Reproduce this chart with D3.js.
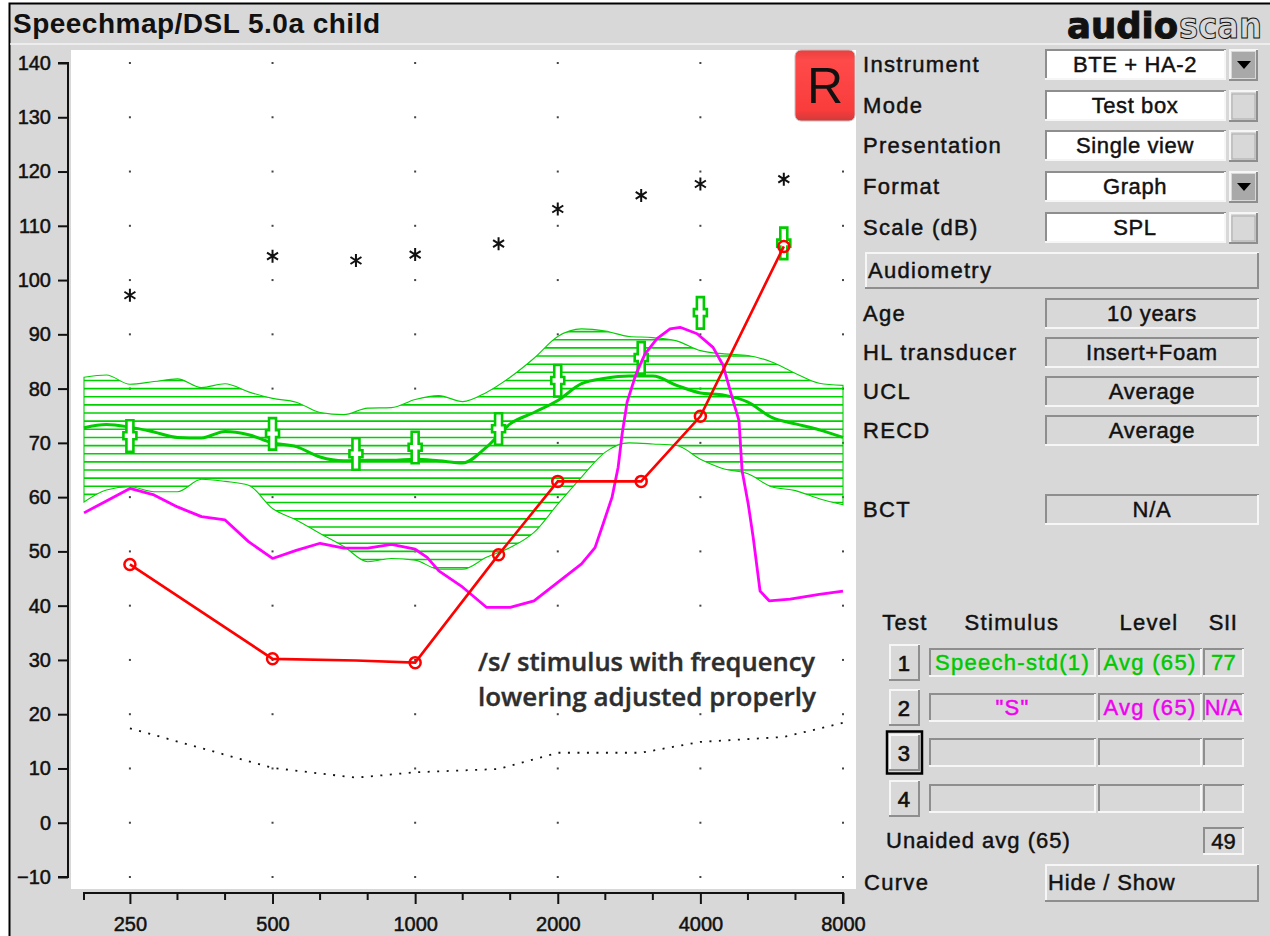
<!DOCTYPE html>
<html>
<head>
<meta charset="utf-8">
<script src="https://cdn.jsdelivr.net/npm/d3@7"></script>
<style>
    html, body { margin: 0; padding: 0; background: #fff; }
    svg { display: block; }
    text { font-family: "Liberation Sans", sans-serif; fill: #111; }
</style>
</head>
<body>
<svg id="viz" width="1270" height="936"></svg>
<script>
// Frequencies the speech curves were read at (Hz)
const speechFreqs = [200, 223, 250, 281, 315, 354, 397, 445, 500, 561, 630, 707, 794, 891, 1000, 1122, 1260, 1414, 1587, 1782, 2000, 2245, 2520, 2828, 3175, 3564, 4000, 4490, 5040, 5657, 6350, 7127, 8000];
const bandUpper = [82.1, 82.5, 80.8, 81.3, 81.8, 80.2, 80.9, 79.4, 78.2, 77.5, 75.6, 75.2, 76.4, 76.5, 78, 78.7, 77.6, 79.3, 82.1, 85.6, 89.6, 91, 90.6, 89.6, 89.4, 88.8, 87, 86.4, 86.1, 84.9, 82.8, 81, 80.6];
const bandLower = [59.1, 61.3, 61.9, 61, 61, 63.3, 62.9, 62.2, 57.9, 55.8, 53.3, 50.9, 48.1, 48.7, 48.4, 46.7, 46.7, 48.9, 50.7, 53.5, 58.7, 63.7, 68.3, 70, 69.8, 69.5, 67, 65.2, 64.3, 61.9, 61.2, 59.7, 58.6];
const speechAvg = [72.8, 73.4, 72.9, 72, 71, 70.9, 72.1, 71.5, 70, 69.3, 67.4, 66.7, 66.8, 66.8, 67, 66.7, 66.3, 69.2, 73.5, 75.6, 77.8, 80.9, 81.9, 82.3, 82.3, 80.6, 79.2, 78.8, 77.5, 74.7, 73.5, 72.4, 71];

// "S" stimulus curve
const sFreqs = [200, 223, 250, 281, 315, 354, 397, 445, 500, 561, 630, 707, 794, 891, 1000, 1060, 1122, 1260, 1414, 1587, 1782, 2000, 2245, 2397, 2492, 2604, 2682, 2734, 2801, 2926, 3057, 3240, 3452, 3625, 3937, 4254, 4466, 4688, 4826, 4898, 5048, 5170, 5346, 5587, 6187, 7127, 8000];
const sLevels = [57.1, 59.3, 61.6, 60.4, 58.2, 56.4, 55.8, 51.8, 48.7, 50.2, 51.5, 50.6, 50.6, 51.3, 50.4, 48.9, 46.4, 43.4, 39.7, 39.7, 40.9, 44.3, 47.7, 50.7, 55, 60, 65.5, 71.6, 77.5, 82.7, 86.4, 89.2, 91, 91.3, 90.1, 87.6, 84.3, 77.8, 74.1, 64.9, 58.7, 52.6, 42.7, 40.9, 41.2, 42.1, 42.7];

// Audiometric frequencies
const auditFreqs = [250, 500, 750, 1000, 1500, 2000, 3000, 4000, 6000];
const targets = [47.6, 30.2, 29.9, 29.5, 49.4, 62.9, 62.9, 74.9, 106.2];
const ucl = [97.2, 104.4, 103.6, 104.7, 106.7, 113.1, 115.6, 117.7, 118.6];
const markerLevels = [71.3, 71.7, 68, 69.2, 72.6, 81.5, 85.7, 94, 106.8];
const redCircleFreqs = [250, 500, 1000, 1500, 2000, 3000, 4000, 6000];

const threshFreqs = [250, 500, 750, 1000, 1500, 2000, 3000, 4000, 6000, 8000];
const thresholds = [17.4, 10.1, 8.3, 9.3, 9.9, 12.9, 12.9, 14.9, 15.8, 18.4];

const yTicks = [140, 130, 120, 110, 100, 90, 80, 70, 60, 50, 40, 30, 20, 10, 0, -10];
const xLabels = [250, 500, 1000, 2000, 4000, 8000];
const xMinor = [200, 315, 397, 630, 794, 1260, 1587, 2520, 3175, 5040, 6350];

const dropdownRows = [
    { label: "Instrument", value: "BTE + HA-2", arrow: true, top: 50 },
    { label: "Mode", value: "Test box", arrow: false, top: 91 },
    { label: "Presentation", value: "Single view", arrow: false, top: 131 },
    { label: "Format", value: "Graph", arrow: true, top: 172 },
    { label: "Scale (dB)", value: "SPL", arrow: false, top: 213 }
];
const infoRows = [
    { label: "Age", value: "10 years", top: 298 },
    { label: "HL transducer", value: "Insert+Foam", top: 337 },
    { label: "UCL", value: "Average", top: 376 },
    { label: "RECD", value: "Average", top: 415 },
    { label: "BCT", value: "N/A", top: 494 }
];
const testRows = [
    { n: "1", stim: "Speech-std(1)", level: "Avg (65)", sii: "77", color: "#00c800", top: 648 },
    { n: "2", stim: "\"S\"", level: "Avg (65)", sii: "N/A", color: "#f000f0", top: 693 },
    { n: "3", stim: "", level: "", sii: "", color: "#111", top: 738 },
    { n: "4", stim: "", level: "", sii: "", color: "#111", top: 784 }
];

const svg = d3.select("#viz");
const green = "#00cc00";
const panel = "#d8d8d8";

const x = d3.scaleLog().base(2).domain([200, 8000]).range([84, 843]);
const y = d3.scaleLinear().domain([-10, 140]).range([877, 63]);

// Background and frame
svg.append("rect").attr("x", 9).attr("y", 3).attr("width", 1261).attr("height", 933).attr("fill", panel);
svg.append("path").attr("d", "M9.5,936V3.5H1270").attr("fill", "none").attr("stroke", "#000").attr("stroke-width", 2);
svg.append("line").attr("x1", 10).attr("x2", 1270).attr("y1", 44).attr("y2", 44).attr("stroke", "#f4f4f4").attr("stroke-width", 1.5);
svg.append("rect").attr("x", 71).attr("y", 50).attr("width", 785).attr("height", 839).attr("fill", "#fff");

function label(text, px, py, opts = {}) {
    return svg.append("text")
        .attr("x", px).attr("y", py)
        .attr("text-anchor", opts.anchor || "start")
        .attr("font-size", opts.size || 22)
        .attr("letter-spacing", opts.spacing === undefined ? 1.3 : opts.spacing)
        .style("fill", opts.color || "#111")
        .attr("stroke", opts.color || "#111")
        .attr("stroke-width", opts.weight === undefined ? 0.45 : opts.weight)
        .text(text);
}

// Title and logo
svg.append("text").attr("x", 13).attr("y", 33).attr("font-size", 28).attr("font-weight", "bold")
    .attr("textLength", 367).attr("lengthAdjust", "spacing").style("fill", "#111").text("Speechmap/DSL 5.0a child");
svg.append("text").attr("x", 1067).attr("y", 38).attr("font-size", 35).attr("font-weight", "bold")
    .attr("textLength", 111).attr("lengthAdjust", "spacingAndGlyphs")
    .style("font-family", "DejaVu Sans").style("fill", "#111").attr("stroke", "#111").attr("stroke-width", 1).text("audio");
svg.append("text").attr("x", 1179).attr("y", 38).attr("font-size", 35).attr("font-weight", "bold")
    .attr("textLength", 83).attr("lengthAdjust", "spacingAndGlyphs")
    .style("font-family", "DejaVu Sans").style("fill", panel).attr("stroke", "#111").attr("stroke-width", 1).text("scan");

// Axes
const yAxis = d3.axisLeft(y).tickValues(yTicks).tickSize(10).tickPadding(7).tickFormat(d => d < 0 ? "\u2212" + (-d) : d);
const yG = svg.append("g").attr("transform", "translate(68,0)").call(yAxis);
const xAxis = d3.axisBottom(x).tickValues(xLabels).tickSize(11).tickPadding(13).tickFormat(d => d);
const xG = svg.append("g").attr("transform", "translate(0,893)").call(xAxis);
[yG, xG].forEach(g => {
    g.selectAll("path, line").attr("stroke", "#111").attr("stroke-width", 2);
    g.selectAll("text").attr("font-size", 20).style("font-family", "Liberation Sans").style("fill", "#111")
        .attr("stroke", "#111").attr("stroke-width", 0.5);
});
yG.select("path").attr("d", `M-10,${y(140)}H0V${y(-10)}H-10`);
xG.select("path").attr("d", `M${x(200)},7V0H${x(8000)}V11`);
xG.selectAll("line.minor").data(xMinor).enter().append("line").attr("class", "minor")
    .attr("x1", d => x(d)).attr("x2", d => x(d)).attr("y1", 0).attr("y2", 7)
    .attr("stroke", "#111").attr("stroke-width", 2);

// Grid dots
const gridDots = xLabels.flatMap(f => yTicks.map(v => ({ f, v })));
svg.append("g").selectAll("rect").data(gridDots).enter().append("rect")
    .attr("x", d => x(d.f) - 1).attr("y", d => y(d.v) - 1)
    .attr("width", 2).attr("height", 2).attr("fill", "#444");

// Speech band
const bandData = speechFreqs.map((f, i) => ({ f, hi: bandUpper[i], lo: bandLower[i] }));
const bandArea = d3.area().x(d => x(d.f)).y0(d => y(d.lo)).y1(d => y(d.hi)).curve(d3.curveMonotoneX);
svg.append("clipPath").attr("id", "bandClip").append("path").attr("d", bandArea(bandData));
svg.append("g").attr("clip-path", "url(#bandClip)")
    .selectAll("line").data(d3.range(44, 92, 1.5)).enter().append("line")
    .attr("x1", x(200)).attr("x2", x(8000))
    .attr("y1", d => y(d)).attr("y2", d => y(d))
    .attr("stroke", "#00d000").attr("stroke-width", 1.6);
svg.append("path").attr("d", bandArea(bandData)).attr("fill", "none").attr("stroke", "#00d000").attr("stroke-width", 1.1);

const lineGen = d3.line().x(d => x(d[0])).y(d => y(d[1])).curve(d3.curveMonotoneX);

// Average speech line
svg.append("path").attr("d", lineGen(d3.zip(speechFreqs, speechAvg)))
    .attr("fill", "none").attr("stroke", green).attr("stroke-width", 3);

// Green target markers
svg.append("g").selectAll("path").data(d3.zip(auditFreqs, markerLevels)).enter().append("path")
    .attr("transform", d => `translate(${x(d[0])},${y(d[1])})`)
    .attr("d", "M-3.5,-15.5H3.5V-3.5H6.5V3.5H3.5V16H-3.5V3.5H-6.5V-3.5H-3.5Z")
    .attr("fill", "#fff").attr("stroke", green).attr("stroke-width", 2.6);

// "S" stimulus
svg.append("path").attr("d", d3.line().x(d => x(d[0])).y(d => y(d[1]))(d3.zip(sFreqs, sLevels)))
    .attr("fill", "none").attr("stroke", "#ff00ff").attr("stroke-width", 2.8).attr("stroke-linejoin", "round");

// Threshold (dotted)
svg.append("path").attr("d", d3.line().x(d => x(d[0])).y(d => y(d[1]))(d3.zip(threshFreqs, thresholds)))
    .attr("fill", "none").attr("stroke", "#111").attr("stroke-width", 1.8).attr("stroke-dasharray", "2 7.5");

// Target line and circles
svg.append("path").attr("d", d3.line().x(d => x(d[0])).y(d => y(d[1]))(d3.zip(auditFreqs, targets)))
    .attr("fill", "none").attr("stroke", "#ff0000").attr("stroke-width", 2.6);
const targetByFreq = new Map(d3.zip(auditFreqs, targets));
svg.append("g").selectAll("circle").data(redCircleFreqs).enter().append("circle")
    .attr("cx", d => x(d)).attr("cy", d => y(targetByFreq.get(d))).attr("r", 5.5)
    .attr("fill", "none").attr("stroke", "#ff0000").attr("stroke-width", 2.5);

// UCL asterisks
svg.append("g").selectAll("path").data(d3.zip(auditFreqs, ucl)).enter().append("path")
    .attr("transform", d => `translate(${x(d[0])},${y(d[1])})`)
    .attr("d", "M0,-6.5V6.5M-5.5,-3.5L5.5,3.5M-5.5,3.5L5.5,-3.5")
    .attr("stroke", "#111").attr("stroke-width", 2).attr("fill", "none");

// Note on the plot
[["/s/ stimulus with frequency", 671], ["lowering adjusted properly", 706]].forEach(([t, py]) => {
    svg.append("text").attr("x", 478).attr("y", py).attr("font-size", 26).attr("font-weight", 600)
        .attr("textLength", t[0] === "/" ? 337 : 338).attr("lengthAdjust", "spacingAndGlyphs")
        .style("font-family", "Open Sans").style("fill", "#2e2e2e")
        .attr("stroke", "#2e2e2e").attr("stroke-width", 0.4).text(t);
});

// R badge
const defs = svg.append("defs");
const grad = defs.append("linearGradient").attr("id", "rGrad").attr("x1", 0).attr("y1", 0).attr("x2", 0).attr("y2", 1);
grad.append("stop").attr("offset", "0%").attr("stop-color", "#e8403f");
grad.append("stop").attr("offset", "15%").attr("stop-color", "#ff4a4a");
grad.append("stop").attr("offset", "85%").attr("stop-color", "#f93c3c");
grad.append("stop").attr("offset", "100%").attr("stop-color", "#d23a3a");
svg.append("rect").attr("x", 795).attr("y", 50).attr("width", 60).attr("height", 71).attr("rx", 6)
    .attr("fill", "url(#rGrad)").attr("stroke", "#c9c0c0").attr("stroke-width", 1);
svg.append("text").attr("x", 825).attr("y", 103).attr("text-anchor", "middle").attr("font-size", 50)
    .style("fill", "#111").text("R");

// Widgets
function bevel(px, py, w, h, raised, fill) {
    const g = svg.append("g");
    g.append("rect").attr("x", px).attr("y", py).attr("width", w).attr("height", h).attr("fill", fill || panel);
    const dark = "#8e8e8e", lite = "#f6f6f6";
    g.append("path").attr("d", `M${px + 1},${py + h}V${py + 1}H${px + w}`)
        .attr("fill", "none").attr("stroke", raised ? lite : dark).attr("stroke-width", 2);
    g.append("path").attr("d", `M${px + w - 1},${py + 1}V${py + h - 1}H${px}`)
        .attr("fill", "none").attr("stroke", raised ? dark : lite).attr("stroke-width", 2);
}

dropdownRows.forEach(r => {
    label(r.label, 863, r.top + 22);
    bevel(1045, r.top - 1, 181, 31, false, "#fff");
    label(r.value, 1135, r.top + 22, { anchor: "middle", spacing: 0.6 });
    bevel(1229, r.top - 1, 29, 32, true);
    if (r.arrow) {
        svg.append("rect").attr("x", 1232).attr("y", r.top + 2).attr("width", 23).attr("height", 26).attr("fill", "#a9a9a9");
        svg.append("path").attr("d", `M1237,${r.top + 11}h14l-7,8z`).attr("fill", "#000");
    } else {
        svg.append("rect").attr("x", 1232).attr("y", r.top + 3).attr("width", 23).attr("height", 25)
            .attr("fill", "none").attr("stroke", "#ababab").attr("stroke-width", 1);
    }
});

bevel(865, 252, 394, 37, true);
label("Audiometry", 868, 278);

infoRows.forEach(r => {
    label(r.label, 863, r.top + 23);
    bevel(1045, r.top, 214, 31, false);
    label(r.value, 1152, r.top + 23, { anchor: "middle", spacing: 0.7 });
});

label("Test", 905, 630, { anchor: "middle" });
label("Stimulus", 1012, 630, { anchor: "middle" });
label("Level", 1149, 630, { anchor: "middle" });
label("SII", 1223, 630, { anchor: "middle", spacing: 0.6 });

testRows.forEach(r => {
    const cy = r.top + 14.5;
    if (r.n === "3") {
        svg.append("rect").attr("x", 887).attr("y", cy - 21).attr("width", 35).attr("height", 42)
            .attr("fill", "none").attr("stroke", "#000").attr("stroke-width", 2.5);
    }
    bevel(889, cy - 18.5, 31, 37, true);
    label(r.n, 904.5, cy + 8, { anchor: "middle", weight: 0.7 });
    bevel(929, r.top, 167, 29, false);
    bevel(1098, r.top, 104, 29, false);
    bevel(1203, r.top, 41, 29, false);
    label(r.stim, 1012.5, cy + 7.5, { anchor: "middle", color: r.color });
    label(r.level, 1150, cy + 7.5, { anchor: "middle", color: r.color });
    label(r.sii, 1223.5, cy + 7.5, { anchor: "middle", color: r.color, spacing: 0.3 });
});

label("Unaided avg (65)", 886, 848, { spacing: 1 });
bevel(1203, 827, 41, 28, false);
label("49", 1223.5, 849, { anchor: "middle", spacing: 0 });

label("Curve", 864, 890);
bevel(1045, 864, 214, 38, true);
label("Hide / Show", 1048, 890, { spacing: 0.8 });
</script>
</body>
</html>
